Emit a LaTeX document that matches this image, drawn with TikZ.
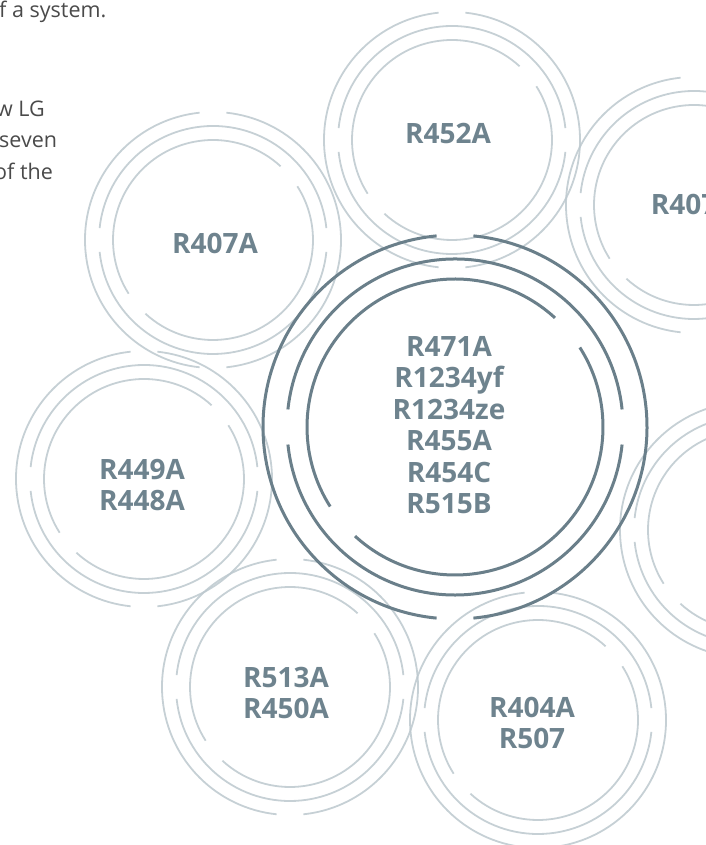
\documentclass[tikz,border=0pt]{standalone}
\usepackage{fontspec}
\setmainfont{Open Sans}
\definecolor{ringlite}{HTML}{BCC8CE}
\definecolor{ringdark}{HTML}{6A7F8A}
\definecolor{labelgray}{HTML}{6E838E}
\definecolor{bodygray}{HTML}{4A4A4A}

\begin{document}
\begin{tikzpicture}[
    x=1pt, y=1pt,
    lite/.style={draw=ringlite, line width=1.8pt, draw opacity=0.85},
    dark/.style={draw=ringdark, line width=3pt},
    gas/.style={align=center, text=labelgray, font=\fontsize{28}{31.5}\selectfont\bfseries, inner sep=0pt},
    body/.style={anchor=base west, text=bodygray, font=\fontsize{21.5}{25}\selectfont, inner sep=0pt}
]
    \useasboundingbox (0,0) rectangle (705,845);

    % ring centres
    \coordinate (c471a) at (455,418);
    \coordinate (c452a) at (452,705);
    \coordinate (c407a) at (213,605);
    \coordinate (c407c) at (694,640);
    \coordinate (cside) at (748,315);
    \coordinate (c449a) at (144,366);
    \coordinate (c513a) at (290,158);
    \coordinate (c404a) at (538,125);

    % light rings: outer gaps top/bottom, middle left/right, inner diagonal
    \foreach \c in {c452a,c407a,c407c,cside,c449a,c513a,c404a}
        \foreach \r/\g/\h in {128/90/6, 114/0/6, 100/40/7.5}
            \foreach \k in {0,180}
                \draw[lite] (\c) ++(\g+\k+\h:\r pt) arc[start angle=\g+\k+\h, delta angle=180-2*\h, radius=\r pt];

    % centre ring
    \foreach \r/\g/\h in {192/90/5.5, 168/0/6, 148/40/7.5}
        \foreach \k in {0,180}
            \draw[dark] (c471a) ++(\g+\k+\h:\r pt) arc[start angle=\g+\k+\h, delta angle=180-2*\h, radius=\r pt];

    \node[gas] (r471a) at (449,420) {R471A\\R1234yf\\R1234ze\\R455A\\R454C\\R515B};
    \node[gas] (r452a) at (448,711) {R452A};
    \node[gas] (r407a) at (215,602) {R407A};
    \node[gas] (r407c) at (693,641) {R407C};
    \node[gas] (r449a) at (142,360) {R449A\\R448A};
    \node[gas] (r513a) at (286,152) {R513A\\R450A};
    \node[gas] (r404a) at (532,122) {R404A\\R507};

    \node[body] (line1) at (-1,827) {f a system.};
    \node[body] (line2) at (-4,728) {w LG};
    \node[body] (line3) at (-1,697) {seven};
    \node[body] (line4) at (-6,665) {of the};
\end{tikzpicture}
\end{document}
